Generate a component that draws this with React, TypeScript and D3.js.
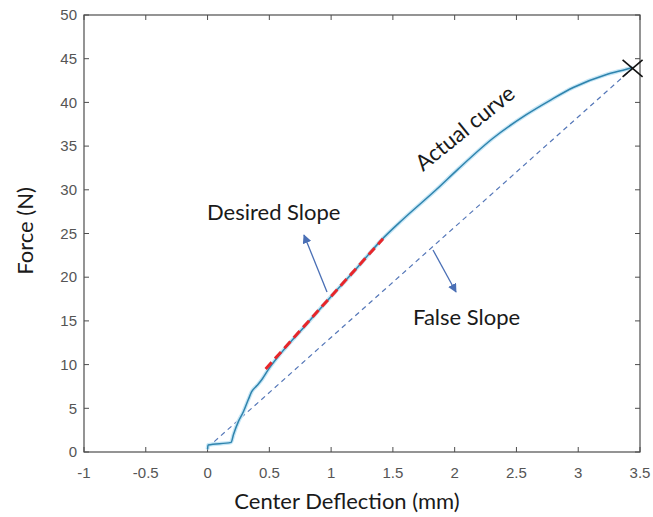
import React from 'react';
import * as d3 from 'd3';

// Actual curve (center deflection mm, force N)
const curveX = [0, 0.004, 0.19, 0.21, 0.25, 0.29, 0.33, 0.357, 0.4, 0.44, 0.49, 0.6, 0.8, 1.0, 1.2, 1.41, 1.58, 1.85, 2.03, 2.31, 2.58, 2.78, 2.96, 3.23, 3.39, 3.44];
const curveY = [0.3, 0.8, 1.1, 2.0, 3.5, 4.6, 6.0, 6.9, 7.6, 8.3, 9.4, 11.4, 14.6, 17.8, 20.9, 24.3, 26.6, 30.0, 32.4, 35.9, 38.6, 40.3, 41.7, 43.2, 43.8, 44.0];

// Desired slope (red dashed) segment
const desiredX = [0.47, 1.42];
const desiredY = [9.5, 24.4];

// False slope (blue dashed) segment
const falseX = [0, 3.44];
const falseY = [0.5, 43.9];

// End point marker
const endX = [3.44];
const endY = [43.9];

const xTicks = [-1, -0.5, 0, 0.5, 1, 1.5, 2, 2.5, 3, 3.5];
const xTickLabels = ['-1', '-0.5', '0', '0.5', '1', '1.5', '2', '2.5', '3', '3.5'];
const yTicks = [0, 5, 10, 15, 20, 25, 30, 35, 40, 45, 50];
const yTickLabels = ['0', '5', '10', '15', '20', '25', '30', '35', '40', '45', '50'];

const W = 653;
const H = 517;
const L = 84, R = 640, T = 15, B = 452;

export default function App() {
  const x = d3.scaleLinear().domain([-1, 3.5]).range([L, R]);
  const y = d3.scaleLinear().domain([0, 50]).range([B, T]);
  const line = d3.line<[number, number]>().x(d => x(d[0])).y(d => y(d[1]));
  const smooth = d3.line<[number, number]>().x(d => x(d[0])).y(d => y(d[1])).curve(d3.curveMonotoneX);
  const curvePts = curveX.map((v, i) => [v, curveY[i]] as [number, number]);
  const desiredPts = desiredX.map((v, i) => [v, desiredY[i]] as [number, number]);
  const falsePts = falseX.map((v, i) => [v, falseY[i]] as [number, number]);
  const axisColor = '#4d4d4d';
  const tickLen = 5;
  const tickFont = '"Liberation Sans", Arial, sans-serif';
  const textFont = 'Lato, "Open Sans", sans-serif';
  const arrowColor = '#4a6fb5';
  const mx = x(endX[0]);
  const my = y(endY[0]);
  const ms = 10;

  return (
    <svg width={W} height={H} style={{ position: 'absolute', left: 0, top: 0, background: '#fff' }}>
      <defs>
        <marker id="arr" viewBox="0 0 10 10" refX="9" refY="5" markerWidth="9" markerHeight="9" orient="auto" markerUnits="userSpaceOnUse">
          <path d="M0,0 L10,5 L0,10 z" fill={arrowColor} />
        </marker>
      </defs>
      <rect x={0} y={0} width={W} height={H} fill="#fff" />
      {/* box */}
      <rect x={L} y={T} width={R - L} height={B - T} fill="none" stroke={axisColor} strokeWidth={1.2} />
      {/* x ticks */}
      {xTicks.map((t, i) => (
        <g key={'xt' + i}>
          <line x1={x(t)} x2={x(t)} y1={B} y2={B - tickLen} stroke={axisColor} strokeWidth={1} />
          <line x1={x(t)} x2={x(t)} y1={T} y2={T + tickLen} stroke={axisColor} strokeWidth={1} />
          <text x={x(t)} y={478} textAnchor="middle" fontFamily={tickFont} fontSize={15} fill="#555">{xTickLabels[i]}</text>
        </g>
      ))}
      {yTicks.map((t, i) => (
        <g key={'yt' + i}>
          <line x1={L} x2={L + tickLen} y1={y(t)} y2={y(t)} stroke={axisColor} strokeWidth={1} />
          <line x1={R} x2={R - tickLen} y1={y(t)} y2={y(t)} stroke={axisColor} strokeWidth={1} />
          <text x={77} y={y(t)} dy="0.35em" textAnchor="end" fontFamily={tickFont} fontSize={15} fill="#555">{yTickLabels[i]}</text>
        </g>
      ))}
      {/* false slope */}
      <path d={line(falsePts) || ''} fill="none" stroke="#5577b8" strokeWidth={1.2} strokeDasharray="5,4" />
      {/* actual curve halo + line */}
      <path d={smooth(curvePts) || ''} fill="none" stroke="#c6e6f6" strokeWidth={4} strokeLinejoin="round" />
      <path d={smooth(curvePts) || ''} fill="none" stroke="#2f84ad" strokeWidth={1.5} strokeLinejoin="round" />
      {/* desired slope */}
      <path d={line(desiredPts) || ''} fill="none" stroke="#e8262a" strokeWidth={3} strokeDasharray="9,5" />
      {/* end marker */}
      <line x1={mx - ms} y1={my - ms * 0.85} x2={mx + ms} y2={my + ms * 0.85} stroke="#111" strokeWidth={1.6} />
      <line x1={mx - ms} y1={my + ms * 0.85} x2={mx + ms} y2={my - ms * 0.85} stroke="#111" strokeWidth={1.6} />
      {/* annotations */}
      <text x={207} y={220} fontFamily={textFont} fontSize={22} fill="#1a1a1a">Desired Slope</text>
      <line x1={327} y1={292} x2={304} y2={235} stroke={arrowColor} strokeWidth={1.3} markerEnd="url(#arr)" />
      <text x={413} y={325} fontFamily={textFont} fontSize={22} fill="#1a1a1a">False Slope</text>
      <line x1={433} y1={250} x2={456} y2={292} stroke={arrowColor} strokeWidth={1.3} markerEnd="url(#arr)" />
      <text x={423} y={172} transform="rotate(-39 423 172)" fontFamily={textFont} fontSize={22} fill="#1a1a1a">Actual curve</text>
      {/* axis titles */}
      <text x={347} y={509} textAnchor="middle" fontFamily={textFont} fontSize={22} fill="#1a1a1a">Center Deflection (mm)</text>
      <text x={0} y={0} transform="translate(33,231) rotate(-90)" textAnchor="middle" fontFamily={textFont} fontSize={22} fill="#1a1a1a">Force (N)</text>
    </svg>
  );
}
